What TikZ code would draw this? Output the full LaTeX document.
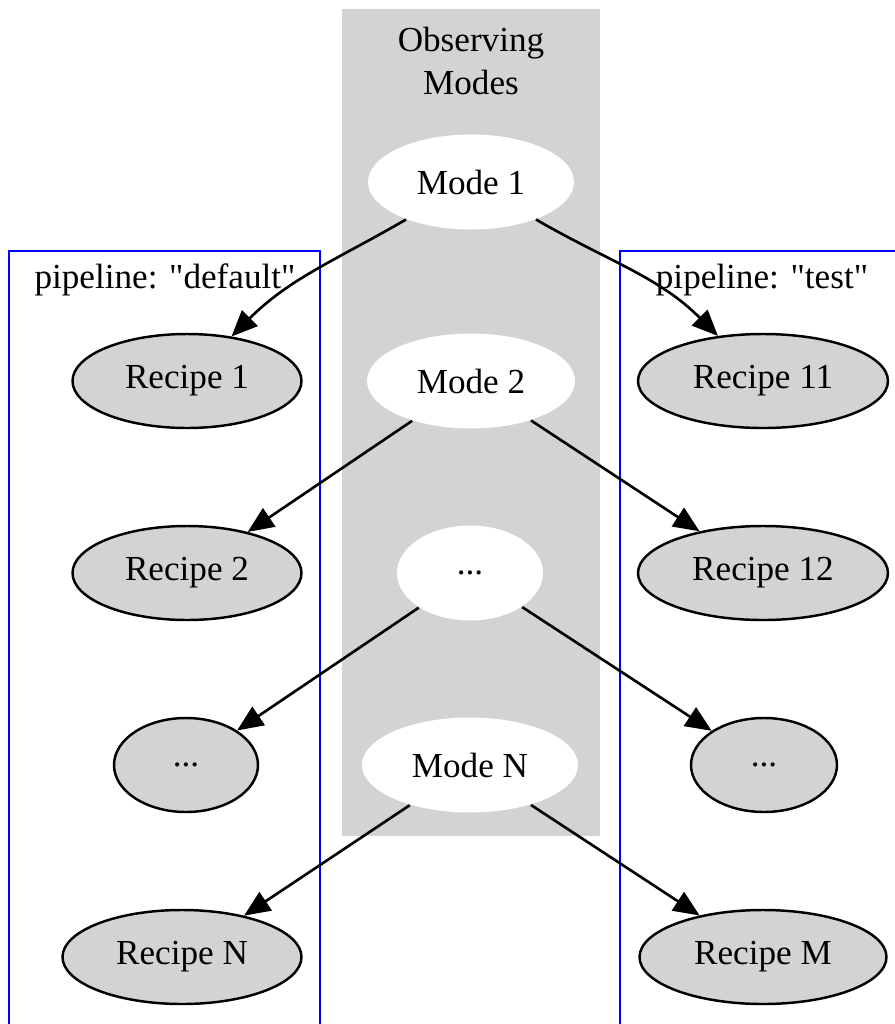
\documentclass[tikz,border=0pt]{standalone}
\usepackage{fontspec}
\setmainfont{Liberation Serif}[Ligatures=TeXOff]
\usetikzlibrary{shapes}
\usetikzlibrary{arrows.meta}
\definecolor{lightgrey}{RGB}{211,211,211}

\begin{document}
\begin{tikzpicture}
[-,thick,x=0.2mm,y=-0.2mm,%
  lineDecorate/.style={-{Triangle[length=5.2mm,width=4.4mm]},line width=1.5pt},%
  modeDecorate/.style={shape=ellipse,fill=white,inner sep=0pt,minimum height=19mm},%
  recipeDecorate/.style={shape=ellipse,draw,fill=lightgrey,line width=1.4pt,inner sep=0pt,minimum height=18.8mm},%
  clusterDecorate/.style={draw=blue,line width=1.4pt}]
\fontsize{20}{24}\selectfont
%% canvas
\useasboundingbox (0,0) rectangle (895,1024);
\clip (0,0) rectangle (895,1024);
%% cluster of observing modes
\fill[lightgrey] (342,9) rectangle (600,836);
\node[align=center] (modes) at (471,61) {Observing\\Modes};
%% pipeline clusters and their labels
\draw[clusterDecorate] (9,1040) -- (9,251) -- (320,251) -- (320,1040);
\draw[clusterDecorate] (620,1040) -- (620,251) -- (905,251) -- (905,1040);
\node (default) at (165,280) {pipeline: "default"};
\node (test) at (762,280) {pipeline: "test"};
%% mode nodes
\foreach \nodename/\x/\y/\w/\nodetext in {
  m1/471/182/206/Mode 1, m2/471/381/208/Mode 2,
  m3/470/573/146/{...}, m4/470/765/216/Mode N}
{
  \node[modeDecorate,minimum width=\w*0.2mm] (\nodename) at (\x,\y) {\nodetext};
}
%% recipe nodes
\foreach \nodename/\x/\y/\w/\nodetext in {
  r1/187/381/229/Recipe 1, r2/187/573/229/Recipe 2,
  r3/186/765/144/{...}, r4/182/957/239/Recipe N,
  r11/763/381/250/Recipe 11, r12/763/573/250/Recipe 12,
  r13/764/765/146/{...}, r14/763/957/247/Recipe M}
{
  \node[recipeDecorate,minimum width=\w*0.2mm] (\nodename) at (\x,\y) {\nodetext};
}
%% connect modes to recipes
\path
(m1) edge[lineDecorate,out=-150,in=45] (r1)
(m1) edge[lineDecorate,out=-30,in=135] (r11)
(m2) edge[lineDecorate] (r2)
(m2) edge[lineDecorate] (r12)
(m3) edge[lineDecorate] (r3)
(m3) edge[lineDecorate] (r13)
(m4) edge[lineDecorate] (r4)
(m4) edge[lineDecorate] (r14);
\end{tikzpicture}
\end{document}
